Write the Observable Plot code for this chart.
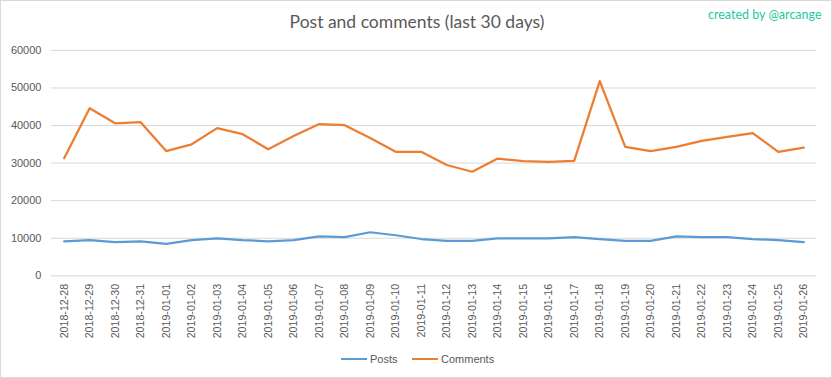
<!DOCTYPE html>
<html>
<head>
<meta charset="utf-8">
<script src="https://cdn.jsdelivr.net/npm/d3@7"></script>
<script src="https://cdn.jsdelivr.net/npm/@observablehq/plot@0.6"></script>
<style>
  html, body { margin: 0; padding: 0; background: #fff; }
  #wrap { position: relative; width: 832px; height: 378px; box-sizing: border-box; border: 1px solid #d9d9d9; background: #fff; overflow: hidden; }
  #title { position: absolute; left: 0; width: 832px; top: 10px; text-align: center; font-family: Lato, sans-serif; font-size: 17.5px; color: #595959; }
  #credit { position: absolute; left: 707px; top: 6px; font-family: Lato, sans-serif; font-size: 12.5px; color: #1dc9a4; white-space: nowrap; }
  #chart { position: absolute; left: 0; top: 0; }
  #legend { position: absolute; top: 349px; left: 0; width: 832px; font-family: "Liberation Sans", Arial, sans-serif; font-size: 11px; color: #595959; }
  .item { position: absolute; top: 0; display: flex; align-items: center; height: 18px; }
  .sw { width: 26px; height: 2.5px; margin-right: 3px; }
</style>
</head>
<body>
<div id="wrap">
  <div id="chart"></div>
  <div id="title">Post and comments (last 30 days)</div>
  <div id="credit">created by @arcange</div>
  <div id="legend"></div>
</div>
<script>
const dates = ["2018-12-28","2018-12-29","2018-12-30","2018-12-31","2019-01-01","2019-01-02","2019-01-03","2019-01-04","2019-01-05","2019-01-06","2019-01-07","2019-01-08","2019-01-09","2019-01-10","2019-01-11","2019-01-12","2019-01-13","2019-01-14","2019-01-15","2019-01-16","2019-01-17","2019-01-18","2019-01-19","2019-01-20","2019-01-21","2019-01-22","2019-01-23","2019-01-24","2019-01-25","2019-01-26"];
const posts = [9200,9500,9000,9200,8500,9500,10000,9500,9200,9500,10500,10300,11600,10800,9800,9300,9300,10000,10000,10000,10300,9800,9300,9300,10500,10300,10300,9800,9500,9000];
const comments = [31300,44600,40600,40900,33200,35000,39300,37700,33700,37200,40400,40100,36700,33000,33000,29500,27700,31200,30500,30300,30600,51800,34300,33200,34300,35900,37000,38000,33000,34100];
const seriesNames = ["Posts","Comments"];
const seriesColors = ["#5b9bd5","#ed7d31"];
const yTicks = [0,10000,20000,30000,40000,50000,60000];

const rows = [];
dates.forEach((d,i) => {
  rows.push({date: d, value: posts[i], series: "Posts"});
  rows.push({date: d, value: comments[i], series: "Comments"});
});

const chart = Plot.plot({
  width: 832,
  height: 350,
  marginTop: 49,
  marginBottom: 75,
  marginLeft: 50,
  marginRight: 15,
  style: {fontFamily: "'Liberation Sans', Arial, sans-serif", fontSize: "11px", color: "#595959", background: "transparent"},
  x: {type: "point", domain: dates, padding: 0.5, round: false, label: null},
  y: {domain: [0, 60000], ticks: yTicks, label: null},
  color: {domain: seriesNames, range: seriesColors},
  marks: [
    Plot.gridY(yTicks, {stroke: "#d9d9d9", strokeOpacity: 1, strokeWidth: 1}),
    Plot.axisY(yTicks, {tickSize: 0, tickPadding: 10, tickFormat: d => String(d), fontSize: 11, fill: "#595959", label: null}),
    Plot.axisX({tickSize: 0, tickPadding: 8, tickRotate: -90, fontSize: 10.7, fill: "#595959", label: null}),
    Plot.lineY(rows, {x: "date", y: "value", z: "series", stroke: "series", strokeWidth: 2.25, strokeLinejoin: "round", strokeLinecap: "round"})
  ]
});
document.getElementById("chart").appendChild(chart);

const legend = document.getElementById("legend");
const lefts = [340, 411];
seriesNames.forEach((name, i) => {
  const it = document.createElement("div");
  it.className = "item";
  it.style.left = lefts[i] + "px";
  const sw = document.createElement("div");
  sw.className = "sw";
  sw.style.background = seriesColors[i];
  const tx = document.createElement("span");
  tx.textContent = name;
  it.appendChild(sw);
  it.appendChild(tx);
  legend.appendChild(it);
});
</script>
</body>
</html>
